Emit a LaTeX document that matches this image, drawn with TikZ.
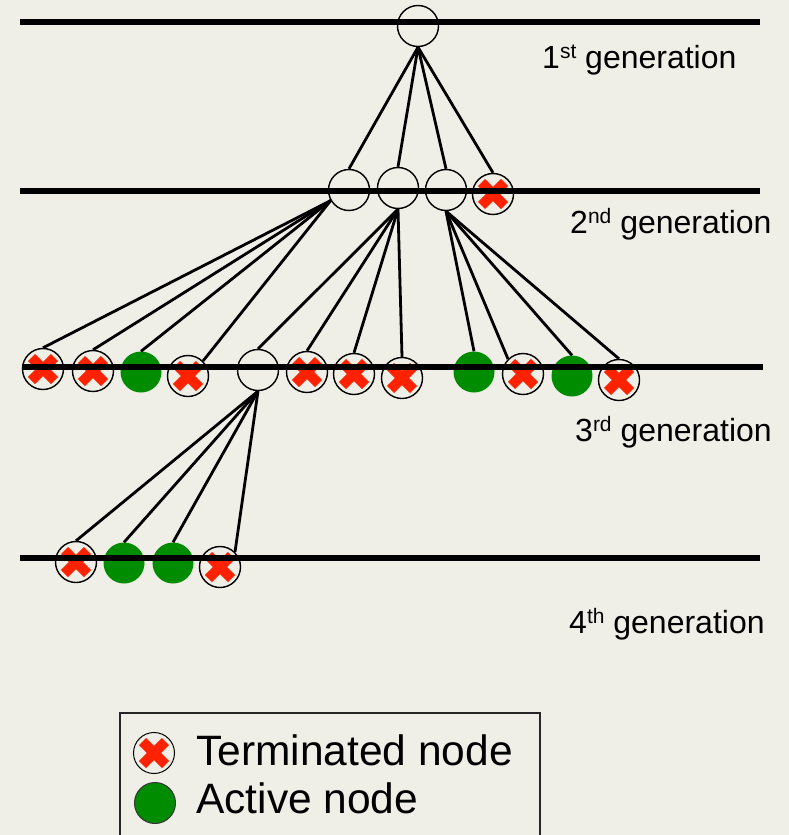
\documentclass[tikz,border=0pt]{standalone}
\usepackage{fontspec}
\setmainfont{Liberation Sans}
\definecolor{bgc}{RGB}{240,239,231}
\definecolor{xred}{RGB}{255,34,0}
\definecolor{agreen}{RGB}{0,140,0}
\newcommand{\supx}[1]{\raisebox{10pt}{\fontsize{21}{21}\selectfont #1}}
\tikzset{
  nd/.style={circle, minimum size=41pt, inner sep=0pt},
  emptynode/.style={nd, draw=black, line width=1.4pt},
  termnode/.style={nd, draw=black, line width=1.4pt, path picture={
      \draw[xred, line width=10pt] (path picture bounding box.center) ++(-11.5,-11.5) -- ++(23,23);
      \draw[xred, line width=10pt] (path picture bounding box.center) ++(-11.5,11.5) -- ++(23,-23);}},
  activenode/.style={nd, fill=agreen},
  edge/.style={line width=2.8pt, black},
  genline/.style={line width=5.2pt, black},
  genlabel/.style={anchor=base west, inner sep=0pt, font=\fontsize{32}{38}\selectfont},
  leglabel/.style={anchor=base west, inner sep=0pt, font=\fontsize{42.5}{50}\selectfont},
}
\begin{document}
\begin{tikzpicture}[x=1pt, y=-1pt]
\fill[bgc] (0,0) rectangle (789,835);
\useasboundingbox (0,0) rectangle (789,835);

% generation 1
\node[emptynode] (top) at (418,26) {};
% generation 2
\node[emptynode] (a) at (349,190) {};
\node[emptynode] (b) at (398,188) {};
\node[emptynode] (c) at (446,190) {};
\node[termnode] (d) at (493,194) {};
% generation 3
\node[termnode] (t1) at (43,369) {};
\node[termnode] (t2) at (93,371) {};
\node[activenode] (t3) at (141,372) {};
\node[termnode] (t4) at (188,376) {};
\node[emptynode] (t5) at (258,370) {};
\node[termnode] (t6) at (307,372) {};
\node[termnode] (t7) at (354,374) {};
\node[termnode] (t8) at (402,378) {};
\node[activenode] (t9) at (474,372) {};
\node[termnode] (t10) at (523,374) {};
\node[activenode] (t11) at (572,376) {};
\node[termnode] (t12) at (619,380) {};
% generation 4
\node[termnode] (u1) at (76,562) {};
\node[activenode] (u2) at (124,563) {};
\node[activenode] (u3) at (173,563) {};
\node[termnode] (u4) at (220,567) {};

% edges
\foreach \ch in {a,b,c,d} \draw[edge] (top.south) -- (\ch.north);
\draw[edge] (a.210) -- (t1.north);
\draw[edge] (a.210) -- (t2.north);
\draw[edge] (a.210) -- (t3.north);
\draw[edge] (a.210) -- (t4.45);
\foreach \ch in {t5,t6,t7,t8} \draw[edge] (b.south) -- (\ch.north);
\draw[edge] (c.south) -- (t9.north);
\draw[edge] (c.south) -- (t10.135);
\draw[edge] (c.south) -- (t11.north);
\draw[edge] (c.south) -- (t12.north);
\draw[edge] (t5.south) -- (u1.north);
\draw[edge] (t5.south) -- (u2.north);
\draw[edge] (t5.south) -- (u3.north);
\draw[edge] (t5.south) -- (u4.45);

% generation lines
\coordinate (l1a) at (20,22);  \coordinate (l1b) at (760,22);
\coordinate (l2a) at (20,191); \coordinate (l2b) at (760,191);
\coordinate (l3a) at (22,367); \coordinate (l3b) at (763,367);
\coordinate (l4a) at (20,558); \coordinate (l4b) at (760,558);
\draw[genline] (l1a) -- (l1b);
\draw[genline] (l2a) -- (l2b);
\draw[genline] (l3a) -- (l3b);
\draw[genline] (l4a) -- (l4b);

% labels
\node[genlabel] (g1) at (542,68) {1\supx{st} generation};
\node[genlabel] (g2) at (570,233) {2\supx{nd} generation};
\node[genlabel] (g3) at (575,441) {3\supx{rd} generation};
\node[genlabel] (g4) at (569,633) {4\supx{th} generation};

% legend
\draw[line width=1.5pt, black!85] (120,713) rectangle (540,845);
\node[termnode, line width=1pt] (lt) at (154,753) {};
\node[activenode, draw=black!80, line width=1pt] (la) at (155,803) {};
\node[leglabel] (ltt) at (196,765) {Terminated node};
\node[leglabel] (lat) at (196,813) {Active node};
\end{tikzpicture}
\end{document}
